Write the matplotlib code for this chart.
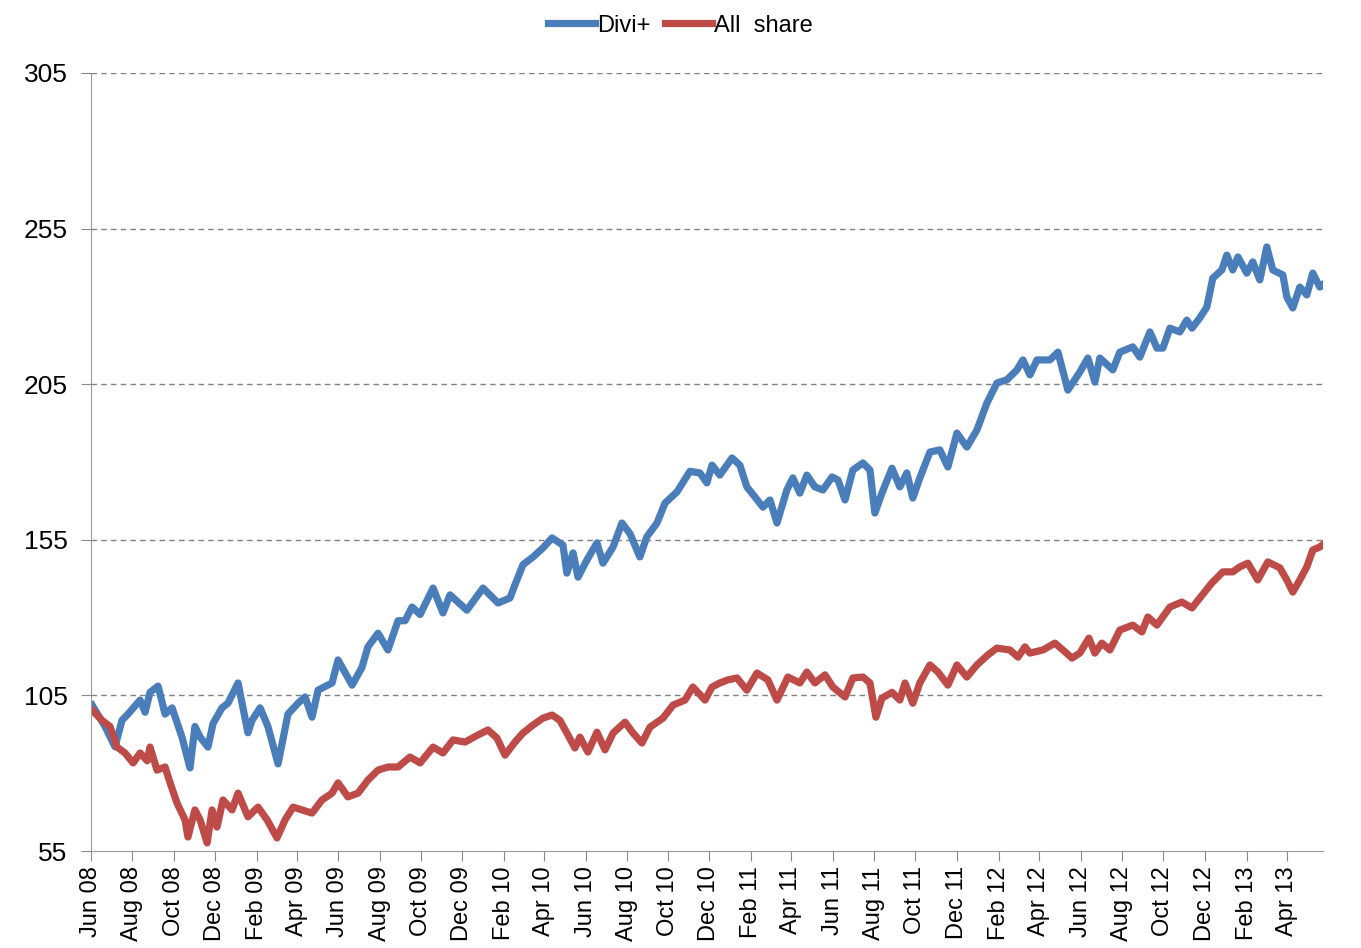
import numpy as np
import pandas as pd
import matplotlib
matplotlib.use("Agg")
import matplotlib.pyplot as plt
import matplotlib.dates as mdates

# time in months after 1 Jun 2008
divi_t = [0.05, 0.68, 1.16, 1.50, 1.79, 2.38, 2.62, 2.86, 3.25, 3.59, 3.93, 4.41, 4.80, 5.04,
          5.29, 5.67, 5.92, 6.35, 6.64, 7.13, 7.61, 7.81, 8.20, 8.58, 9.07, 9.55, 10.04, 10.38,
          10.72, 11.01, 11.69, 11.98, 12.66, 13.14, 13.43, 13.92, 14.40, 14.89, 15.23, 15.57,
          15.96, 16.59, 17.07, 17.41, 18.23, 19.01, 19.74, 20.32, 20.56, 20.95, 21.44, 21.92,
          22.36, 22.89, 23.08, 23.38, 23.62, 24.05, 24.54, 24.83, 25.32, 25.75, 26.14, 26.62,
          26.96, 27.45, 27.84, 28.42, 29.05, 29.53, 29.87, 30.12, 30.50, 31.09, 31.47, 31.81,
          32.20, 32.59, 32.93, 33.27, 33.75, 34.04, 34.38, 34.72, 35.11, 35.50, 35.94, 36.23,
          36.57, 36.95, 37.44, 37.78, 38.02, 38.36, 38.85, 39.23, 39.57, 39.86, 40.20, 40.69,
          41.17, 41.56, 42.00, 42.48, 42.97, 43.45, 43.94, 44.42, 44.91, 45.20, 45.54, 45.88,
          46.51, 46.90, 47.38, 47.96, 48.35, 48.69, 48.93, 49.56, 49.90, 50.53, 50.87, 51.36,
          51.70, 51.99, 52.33, 52.81, 53.15, 53.40, 53.78, 54.12, 54.41, 54.85, 55.09, 55.38,
          55.63, 56.06, 56.35, 56.69, 57.03, 57.32, 57.81, 58.00, 58.29, 58.63, 58.97, 59.26,
          59.60, 59.75]
divi = [101.9, 95.0, 88.5, 97.0, 99.0, 103.5, 99.6, 106.0, 108.0, 99.0, 101.0, 91.6, 81.7, 95.0,
        91.6, 88.4, 96.0, 101.0, 102.5, 109.0, 93.0, 97.0, 101.0, 95.0, 83.0, 99.0, 102.5, 104.5,
        98.0, 106.7, 109.0, 116.4, 108.3, 114.0, 120.6, 125.0, 119.6, 129.0, 129.0, 133.4,
        131.0, 139.5, 131.5, 137.3, 132.4, 139.5, 134.7, 136.3, 140.5, 147.0, 149.5, 152.4,
        155.6, 153.3, 144.3, 150.8, 143.0, 148.5, 154.0, 147.5, 152.7, 160.4, 157.0, 149.5,
        156.0, 160.4, 166.8, 170.4, 177.0, 176.5, 173.3, 179.0, 175.8, 181.3, 179.0, 172.0,
        168.8, 165.5, 167.8, 160.4, 171.0, 174.9, 170.0, 175.8, 172.0, 171.0, 175.2, 174.2,
        167.8, 177.4, 179.7, 177.4, 163.6, 170.0, 178.0, 172.0, 176.5, 168.4, 174.9, 183.2,
        183.9, 178.4, 189.3, 184.8, 190.3, 198.9, 205.4, 206.4, 209.6, 212.8, 208.0, 212.8,
        212.8, 215.3, 203.1, 208.9, 213.4, 205.7, 213.4, 209.6, 215.3, 217.0, 213.7, 221.8,
        216.6, 216.6, 223.0, 221.8, 225.6, 223.0, 226.3, 229.8, 239.1, 241.7, 246.5, 241.7,
        245.9, 240.7, 244.3, 238.5, 249.1, 241.7, 240.1, 233.0, 229.5, 236.2, 233.7, 240.7,
        236.2, 237.0]

share_t = [0.05, 0.53, 0.92, 1.26, 1.65, 2.04, 2.38, 2.72, 2.86, 3.20, 3.59, 3.83, 4.17, 4.56,
           4.70, 5.04, 5.29, 5.63, 5.87, 6.11, 6.40, 6.84, 7.13, 7.61, 8.10, 8.54, 9.02, 9.41,
           9.80, 10.23, 10.72, 11.20, 11.69, 11.98, 12.46, 12.95, 13.43, 13.92, 14.40, 14.89,
           15.47, 15.96, 16.59, 17.07, 17.56, 18.14, 18.77, 19.25, 19.69, 20.08, 20.56, 20.95,
           21.44, 21.92, 22.36, 22.74, 23.08, 23.47, 23.71, 24.10, 24.54, 24.93, 25.32, 25.90,
           26.29, 26.72, 27.11, 27.74, 28.23, 28.81, 29.19, 29.78, 30.12, 30.50, 30.89, 31.33,
           31.81, 32.30, 32.83, 33.27, 33.80, 34.38, 34.72, 35.11, 35.60, 35.98, 36.57, 36.95,
           37.44, 37.78, 38.07, 38.36, 38.85, 39.23, 39.48, 39.86, 40.20, 40.69, 41.08, 41.56,
           42.00, 42.48, 42.97, 43.50, 43.94, 44.57, 44.96, 45.30, 45.54, 46.17, 46.75, 47.14,
           47.58, 47.96, 48.40, 48.69, 49.03, 49.42, 49.90, 50.53, 50.97, 51.26, 51.70, 52.33,
           52.91, 53.40, 53.78, 54.36, 54.90, 55.38, 55.72, 56.11, 56.59, 57.08, 57.66, 58.00,
           58.29, 58.63, 58.97, 59.26, 59.60, 59.75]
share = [100.3, 97.0, 95.0, 88.4, 86.5, 83.3, 86.5, 84.0, 88.4, 81.0, 82.0, 77.0, 70.4, 65.0,
         59.5, 68.2, 65.0, 57.6, 68.2, 62.7, 71.4, 68.2, 73.6, 66.0, 69.1, 65.0, 59.2, 65.0,
         69.1, 68.2, 67.2, 71.4, 73.6, 76.9, 72.4, 73.6, 77.8, 81.0, 82.0, 82.0,
         85.2, 83.3, 88.4, 86.5, 90.7, 90.0, 92.3, 93.9, 91.3, 85.8, 90.0, 92.9,
         95.5, 97.7, 98.7, 97.0, 92.9, 88.1, 91.6, 86.8, 93.2, 87.5, 92.9, 96.4,
         92.9, 89.7, 94.8, 97.7, 101.9, 103.5, 107.7, 103.5, 107.7, 109.0, 110.0, 110.6,
         106.7, 112.2, 110.0, 103.5, 110.9, 109.0, 112.5, 109.0, 111.6, 107.7, 104.5, 110.6,
         110.9, 109.0, 98.0, 104.1, 106.0, 103.5, 109.0, 102.5, 109.0, 114.8, 112.5, 108.3,
         114.8, 110.9, 114.8, 118.0, 120.2, 119.6, 117.3, 120.6, 118.6, 119.6, 121.8, 119.6,
         117.0, 118.6, 123.4, 118.6, 121.8, 119.6, 126.0, 127.6, 125.4, 130.2, 127.6, 133.4,
         135.0, 133.1, 136.3, 141.1, 144.7, 144.7, 146.3, 147.5, 142.1, 147.9, 146.0, 142.1,
         138.2, 142.1, 146.3, 151.7, 152.7, 153.5]

start = pd.Timestamp("2008-06-01")
def to_dates(t):
    return start + pd.to_timedelta(np.array(t) * 30.437, unit="D")

yticks = [55, 105, 155, 205, 255, 305]

plt.rcParams["font.family"] = ["Liberation Sans", "DejaVu Sans"]

fig = plt.figure(figsize=(13.61, 9.48), dpi=100)
ax = fig.add_axes([0.0669, 0.1023, 0.9051, 0.8207])

ax.plot(to_dates(divi_t), divi, color="#4a7ebb", lw=5.2, label="Divi+", solid_joinstyle="round")
ax.plot(to_dates(share_t), share, color="#be4b48", lw=5.2, label="All  share", solid_joinstyle="round")

ax.set_ylim(55, 305)
ax.set_yticks(yticks)
ax.set_xlim(start, to_dates([59.75])[0])
ax.set_xticks(pd.date_range("2008-06-01", "2013-04-01", freq="2MS"))
ax.xaxis.set_major_formatter(mdates.DateFormatter("%b %y"))
plt.setp(ax.get_xticklabels(), rotation=90, fontsize=17)
plt.setp(ax.get_yticklabels(), fontsize=19)
ax.tick_params(axis="x", length=7, color="#888888", pad=4)
ax.tick_params(axis="y", length=7, color="#888888", pad=10)

for y in yticks[1:]:
    ax.axhline(y, color="#808080", lw=1, ls=(0, (4, 3)), zorder=0)

for s in ["top", "right"]:
    ax.spines[s].set_visible(False)
ax.spines["left"].set_color("#999999")
ax.spines["bottom"].set_color("#999999")

fig.legend(loc="upper center", bbox_to_anchor=(0.5, 1.007), ncol=2, frameon=False,
           fontsize=17, handlelength=2.0, columnspacing=0.6, handletextpad=0.1)

plt.savefig("out.png", dpi=100)
